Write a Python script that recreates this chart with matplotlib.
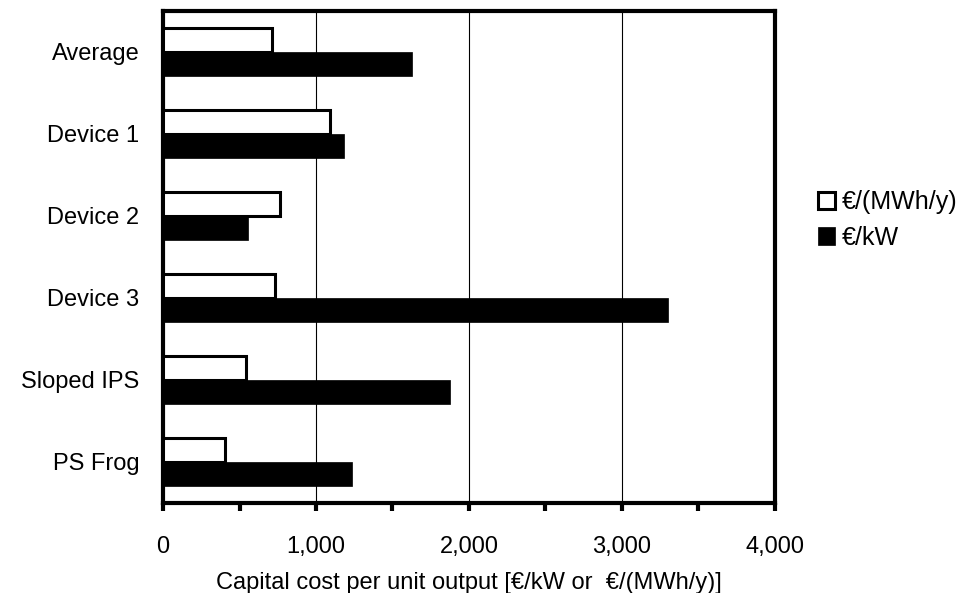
import numpy as np
import matplotlib.pyplot as plt
from matplotlib.ticker import FuncFormatter, MultipleLocator

plt.rcParams['font.family'] = ['Liberation Sans', 'DejaVu Sans']

# data, top to bottom
categories = ['Average', 'Device 1', 'Device 2', 'Device 3', 'Sloped IPS', 'PS Frog']
per_mwh = [710, 1090, 765, 732, 542, 405]      # €/(MWh/y)
per_kw = [1625, 1183, 558, 3303, 1876, 1233]   # €/kW

fig = plt.figure(figsize=(9.68, 5.93), dpi=100)
ax = fig.add_axes([0.1684, 0.1518, 0.6322, 0.8297])

y = np.arange(len(categories))
h = 0.29
ax.barh(y - h/2, per_mwh, height=h, color='white', edgecolor='black',
        linewidth=2.2, label='€/(MWh/y)', zorder=3)
ax.barh(y + h/2, per_kw, height=h, color='black', edgecolor='black',
        linewidth=0.5, label='€/kW', zorder=3)

ax.set_xlim(0, 4000)
ax.set_ylim(len(categories) - 0.5, -0.5)
ax.set_yticks(y)
ax.set_yticklabels(categories, fontsize=17)
ax.xaxis.set_major_locator(MultipleLocator(1000))
ax.xaxis.set_minor_locator(MultipleLocator(500))
ax.xaxis.set_major_formatter(FuncFormatter(lambda v, p: f'{int(v):,}'))
ax.tick_params(axis='x', which='both', length=6, width=3, pad=18, labelsize=17)
ax.tick_params(axis='y', length=0, pad=17)
ax.grid(axis='x', which='major', color='black', linewidth=0.8, zorder=0)
for s in ax.spines.values():
    s.set_linewidth(3)
ax.set_xlabel('Capital cost per unit output [€/kW or  €/(MWh/y)]', fontsize=17, labelpad=10)

ax.legend(loc='center left', bbox_to_anchor=(0.845, 0.629), bbox_transform=fig.transFigure,
          frameon=False, fontsize=18, handlelength=0.7, handleheight=0.7,
          handletextpad=0.25, labelspacing=0.45, borderpad=0, borderaxespad=0)

fig.savefig('out.png', dpi=100)
